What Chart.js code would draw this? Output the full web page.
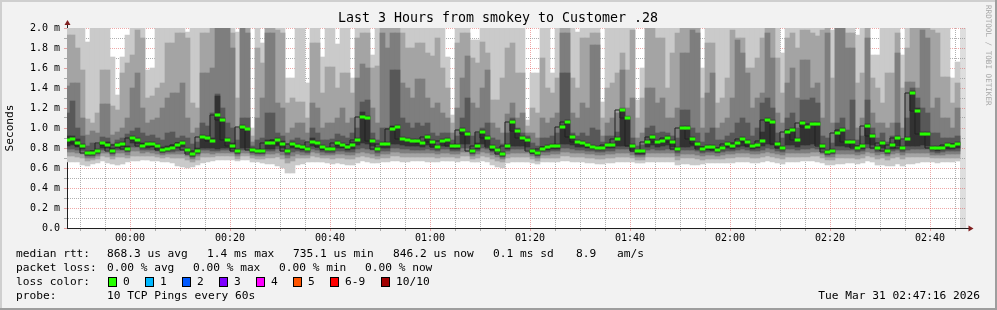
<!DOCTYPE html>
<html>
<head>
<meta charset="utf-8">
<script src="https://cdn.jsdelivr.net/npm/chart.js@4/dist/chart.umd.min.js"></script>
<style>
  html, body { margin: 0; padding: 0; background: #f2f2f2; }
  canvas { display: block; }
</style>
</head>
<body>
<canvas id="chart" width="997" height="310"></canvas>
<script>
// one sample per 60s step, first step starts 13 minutes before 00:00
const firstSample = -13;

// 10 sorted pings per step (ms), p1 = fastest ... p10 = slowest
const p10 = [2.1,2.1,2.1,2.1,1.86,2.1,2.1,2.1,2.1,1.71, 1.33,1.71,1.93,2.1,2.1,2.1,1.58,1.60,2.1,2.1,
  2.1,2.1,2.1,2.1,1.96,2.1,2.1,2.1,2.1,2.1, 2.1,2.1,2.1,2.1,1.96,2.1,2.1,1.00,2.1,1.85,
  2.1,2.1,2.1,2.1,1.50,1.50,2.1,2.1,1.45,2.1, 2.1,1.71,2.1,2.1,1.84,2.1,2.1,1.50,2.1,2.1,
  2.1,1.73,2.1,2.1,2.1,2.1,2.1,2.1,2.1,2.1, 2.1,2.1,2.1,2.1,2.1,2.1,1.71,1.13,2.1,2.1,
  2.1,1.88,1.88,2.1,2.1,2.1,2.1,2.1,2.1,2.1, 2.1,2.1,1.08,1.55,1.55,2.1,2.1,1.55,2.1,2.1,
  2.1,2.1,1.96,2.1,2.1,2.1,2.1,1.26,2.1,2.1, 2.1,2.1,2.1,2.1,1.28,1.60,2.1,2.1,2.1,2.1,
  2.1,2.1,2.1,2.1,2.1,2.1,2.1,1.60,2.1,2.1, 2.1,2.1,2.1,2.1,2.1,2.1,2.1,2.1,2.1,2.1,
  2.1,2.1,2.1,1.75,2.1,2.1,2.1,2.1,2.1,2.1, 2.1,2.1,2.1,1.98,2.1,2.1,2.1,2.1,1.93,2.1,
  2.1,1.73,1.73,2.1,2.1,2.1,2.1,1.73,2.1,2.1, 2.1,2.1,2.1,2.1,2.1,2.1,2.1,1.50,1.66];
const p9 = [1.93,1.93,1.80,1.58,1.09,1.05,1.15,1.58,1.58,1.22, 1.18,1.55,1.65,1.73,1.98,1.90,1.30,1.32,1.40,1.45,
  1.85,1.85,1.95,1.95,1.90,1.25,1.20,1.95,1.95,2.1, 2.1,2.1,2.1,1.95,1.30,2.1,2.1,0.92,1.80,1.65,
  2.1,2.1,1.98,1.95,1.25,1.30,1.26,1.26,1.10,1.85, 1.85,1.35,1.61,1.61,1.40,1.55,1.55,1.35,1.90,1.95,
  1.95,1.60,1.62,2.1,2.1,2.1,2.1,1.95,1.80,1.80, 1.85,1.85,1.75,1.72,1.90,1.60,1.40,1.05,1.85,1.95,
  1.95,1.70,1.65,1.86,1.75,1.28,1.28,1.50,1.80,1.85, 1.55,1.55,1.02,1.20,1.15,1.70,1.40,1.35,1.50,2.1,
  2.1,1.50,1.40,1.90,1.90,1.95,1.95,1.10,1.40,1.45, 1.55,1.75,1.58,1.98,1.10,1.30,2.0,2.0,1.90,1.90,
  1.40,1.75,1.95,2.1,2.1,2.1,2.1,1.30,1.85,1.85, 1.25,1.30,1.50,1.98,1.90,1.90,1.60,1.60,1.70,1.90,
  2.1,2.1,1.70,1.35,1.90,1.95,1.80,1.98,1.98,1.95, 1.92,1.98,2.1,1.50,2.1,2.1,1.95,1.95,1.45,1.55,
  2.0,1.50,1.40,1.25,1.55,1.55,1.95,1.40,1.80,2.1, 2.1,2.1,2.05,1.98,1.95,1.51,1.51,1.25,1.45];
const p8 = [1.42,1.45,1.45,1.10,0.93,0.97,0.95,1.24,1.24,0.93, 0.96,1.00,1.10,1.40,1.55,1.20,1.05,1.08,1.10,1.20,
  1.30,1.35,1.35,1.45,1.10,0.95,1.00,1.55,1.55,1.60, 2.1,2.1,2.1,1.80,1.00,2.1,1.95,0.86,1.10,1.30,
  1.95,1.95,1.25,1.20,0.95,1.00,1.05,1.05,0.95,1.25, 1.20,1.00,1.05,1.05,1.10,1.20,1.05,1.10,1.50,1.64,
  1.60,1.20,1.05,1.95,1.80,1.95,1.95,1.45,1.40,1.30, 1.49,1.49,1.30,1.20,1.25,1.15,1.10,0.95,1.20,1.50,
  1.72,1.25,1.20,1.40,1.58,1.05,1.00,0.95,1.14,1.25, 1.10,1.15,0.95,0.95,0.90,1.10,1.05,1.10,1.15,1.95,
  1.95,1.15,1.10,1.25,1.20,1.83,1.83,0.92,1.05,1.10, 1.15,1.58,1.20,1.30,0.90,0.95,1.40,1.40,1.25,1.30,
  1.10,1.10,1.20,1.75,1.75,1.98,1.95,1.00,1.35,1.55, 1.00,1.05,1.10,1.30,1.88,1.75,1.55,1.20,1.30,1.35,
  1.95,1.70,1.15,1.05,1.45,1.60,1.30,1.68,1.68,1.40, 1.45,1.10,1.95,1.05,2.0,2.0,1.80,1.80,1.00,1.10,
  1.90,1.15,1.05,1.05,1.00,1.05,1.75,1.00,1.46,1.46, 1.40,1.98,1.90,1.20,1.30,1.10,1.10,1.00,1.20];
const p7 = [1.15,1.27,1.00,0.92,0.82,0.85,0.84,0.91,0.90,0.84, 0.88,0.90,0.94,0.97,1.00,0.95,0.92,0.93,0.90,0.88,
  0.95,0.96,0.90,0.92,0.90,0.84,0.86,1.05,1.02,1.15, 1.34,1.20,1.05,1.00,0.88,1.10,1.10,0.82,0.88,0.90,
  1.15,1.15,0.95,0.92,0.84,0.88,0.90,0.88,0.85,1.00, 0.95,0.88,0.88,0.89,0.94,0.92,0.90,0.95,1.00,1.26,
  1.28,0.95,0.88,1.00,1.00,1.58,1.58,1.10,1.05,1.00, 1.05,1.02,1.05,0.95,0.92,0.95,0.95,0.88,0.92,1.10,
  1.30,0.92,0.95,1.00,1.05,0.90,0.88,0.84,0.95,1.10, 1.00,0.95,0.92,0.85,0.82,0.90,0.90,0.92,0.95,1.55,
  1.55,0.95,0.92,0.95,0.92,1.00,0.98,0.86,0.92,0.92, 0.96,1.20,1.12,0.90,0.82,0.83,1.00,1.02,0.95,0.96,
  0.95,0.92,0.90,1.18,1.18,1.00,0.95,0.86,0.95,1.00, 0.88,0.88,0.92,0.95,1.05,1.10,1.05,0.92,1.00,1.25,
  1.30,1.20,0.95,0.90,1.10,1.15,1.00,1.28,1.28,1.30, 1.25,0.92,0.90,0.85,1.05,1.10,0.98,1.28,0.88,0.92,
  1.28,1.00,0.90,0.95,0.86,0.92,1.05,0.88,1.10,1.40, 1.30,1.20,1.15,0.95,0.95,0.90,0.90,0.90,0.92];
const p6 = [0.92,0.92,0.89,0.84,0.77,0.77,0.79,0.86,0.86,0.80, 0.85,0.86,0.82,0.92,0.90,0.85,0.86,0.86,0.84,0.81,
  0.82,0.83,0.85,0.87,0.80,0.76,0.80,0.93,0.92,0.90, 1.32,1.10,0.90,0.85,0.79,1.03,1.00,0.80,0.79,0.79,
  0.88,0.88,0.90,0.87,0.79,0.86,0.84,0.83,0.81,0.90, 0.87,0.83,0.81,0.81,0.87,0.85,0.83,0.86,0.90,1.16,
  1.12,0.89,0.81,0.86,0.86,1.02,1.03,0.91,0.90,0.89, 0.89,0.87,0.93,0.88,0.83,0.89,0.90,0.84,0.84,1.00,
  0.96,0.79,0.85,0.98,0.92,0.83,0.80,0.76,0.84,1.08, 0.99,0.92,0.90,0.79,0.77,0.81,0.83,0.84,0.84,1.03,
  1.08,0.93,0.88,0.87,0.85,0.83,0.82,0.82,0.85,0.85, 0.91,1.19,1.11,0.84,0.78,0.78,0.88,0.93,0.88,0.89,
  0.92,0.88,0.81,1.02,1.02,0.91,0.86,0.81,0.83,0.83, 0.80,0.82,0.86,0.84,0.87,0.91,0.88,0.84,0.85,0.96,
  1.10,1.08,0.86,0.82,0.98,1.00,0.90,1.07,1.03,1.06, 1.06,0.84,0.78,0.79,0.97,1.00,0.88,0.88,0.82,0.84,
  1.04,0.94,0.82,0.87,0.79,0.85,0.92,0.82,0.91,1.37, 1.20,0.96,0.96,0.82,0.82,0.82,0.85,0.84,0.86];
const p5 = [0.82,0.83,0.81,0.79,0.73,0.73,0.75,0.80,0.80,0.75, 0.80,0.81,0.77,0.85,0.84,0.80,0.80,0.81,0.79,0.76,
  0.77,0.78,0.80,0.81,0.76,0.72,0.75,0.80,0.80,0.80, 0.79,0.80,0.80,0.79,0.75,0.80,0.80,0.76,0.75,0.75,
  0.79,0.79,0.82,0.80,0.75,0.80,0.79,0.78,0.77,0.82, 0.81,0.78,0.77,0.77,0.80,0.80,0.78,0.79,0.83,0.85,
  0.84,0.82,0.77,0.80,0.80,0.84,0.84,0.83,0.82,0.82, 0.82,0.81,0.83,0.81,0.79,0.82,0.82,0.79,0.79,0.84,
  0.84,0.75,0.79,0.84,0.82,0.78,0.76,0.72,0.79,0.82, 0.82,0.82,0.81,0.75,0.73,0.77,0.78,0.79,0.79,0.84,
  0.84,0.83,0.81,0.81,0.80,0.79,0.78,0.78,0.80,0.80, 0.82,0.82,0.82,0.78,0.74,0.74,0.81,0.83,0.81,0.82,
  0.83,0.81,0.77,0.81,0.81,0.82,0.80,0.77,0.78,0.78, 0.76,0.78,0.80,0.79,0.81,0.82,0.81,0.79,0.80,0.82,
  0.84,0.83,0.80,0.78,0.83,0.83,0.81,0.83,0.83,0.84, 0.83,0.79,0.74,0.75,0.82,0.82,0.81,0.81,0.78,0.79,
  0.84,0.83,0.78,0.80,0.75,0.79,0.82,0.78,0.82,0.82, 0.82,0.83,0.82,0.78,0.77,0.78,0.79,0.79,0.80];
const p4 = [0.79,0.79,0.78,0.77,0.72,0.72,0.74,0.78,0.78,0.74, 0.78,0.78,0.76,0.81,0.81,0.78,0.78,0.78,0.77,0.75,
  0.76,0.76,0.77,0.78,0.75,0.71,0.74,0.78,0.78,0.77, 0.77,0.78,0.78,0.77,0.74,0.78,0.78,0.75,0.74,0.74,
  0.77,0.77,0.79,0.77,0.73,0.76,0.77,0.76,0.75,0.79, 0.78,0.76,0.75,0.75,0.77,0.77,0.76,0.76,0.79,0.80,
  0.79,0.78,0.75,0.77,0.77,0.80,0.80,0.79,0.79,0.78, 0.78,0.78,0.79,0.78,0.77,0.79,0.79,0.77,0.77,0.80,
  0.80,0.74,0.77,0.80,0.79,0.76,0.74,0.71,0.77,0.79, 0.79,0.79,0.78,0.74,0.72,0.76,0.76,0.77,0.77,0.80,
  0.80,0.79,0.78,0.78,0.77,0.77,0.76,0.76,0.77,0.77, 0.79,0.79,0.79,0.76,0.73,0.73,0.78,0.79,0.78,0.78,
  0.79,0.78,0.75,0.78,0.78,0.78,0.77,0.75,0.76,0.76, 0.75,0.76,0.77,0.77,0.78,0.79,0.78,0.77,0.77,0.78,
  0.80,0.79,0.77,0.76,0.79,0.79,0.78,0.79,0.79,0.80, 0.79,0.77,0.73,0.74,0.78,0.78,0.78,0.78,0.76,0.77,
  0.80,0.79,0.76,0.77,0.74,0.77,0.78,0.76,0.78,0.79, 0.79,0.79,0.79,0.76,0.75,0.76,0.77,0.77,0.77];
const p3 = [0.76,0.76,0.75,0.74,0.70,0.70,0.72,0.75,0.75,0.72, 0.75,0.75,0.73,0.77,0.77,0.75,0.76,0.75,0.74,0.73,
  0.74,0.74,0.74,0.74,0.72,0.69,0.72,0.75,0.75,0.74, 0.75,0.75,0.75,0.75,0.72,0.75,0.75,0.73,0.72,0.72,
  0.74,0.74,0.75,0.73,0.70,0.72,0.74,0.73,0.73,0.76, 0.75,0.73,0.73,0.73,0.74,0.74,0.73,0.73,0.75,0.76,
  0.75,0.74,0.72,0.74,0.74,0.76,0.76,0.75,0.75,0.75, 0.75,0.75,0.75,0.75,0.74,0.75,0.75,0.74,0.74,0.76,
  0.76,0.72,0.74,0.76,0.75,0.73,0.71,0.69,0.74,0.75, 0.75,0.75,0.75,0.72,0.70,0.73,0.73,0.74,0.74,0.76,
  0.76,0.75,0.75,0.75,0.74,0.74,0.73,0.73,0.74,0.74, 0.75,0.75,0.75,0.73,0.71,0.71,0.75,0.75,0.75,0.75,
  0.75,0.75,0.72,0.74,0.74,0.74,0.73,0.72,0.73,0.73, 0.72,0.73,0.74,0.74,0.75,0.75,0.75,0.74,0.74,0.75,
  0.76,0.75,0.74,0.73,0.75,0.75,0.75,0.75,0.75,0.76, 0.76,0.74,0.71,0.71,0.74,0.74,0.74,0.74,0.73,0.74,
  0.76,0.75,0.73,0.74,0.72,0.74,0.75,0.73,0.75,0.75, 0.75,0.75,0.75,0.73,0.73,0.73,0.74,0.74,0.74];
const p2 = [0.72,0.72,0.71,0.70,0.67,0.68,0.69,0.72,0.71,0.69, 0.71,0.71,0.70,0.72,0.72,0.72,0.72,0.72,0.71,0.70,
  0.71,0.70,0.70,0.70,0.68,0.66,0.68,0.71,0.71,0.71, 0.72,0.72,0.72,0.72,0.69,0.72,0.72,0.70,0.69,0.69,
  0.70,0.70,0.71,0.69,0.65,0.67,0.70,0.70,0.70,0.72, 0.71,0.70,0.70,0.69,0.70,0.70,0.69,0.69,0.71,0.72,
  0.71,0.70,0.69,0.70,0.70,0.72,0.72,0.71,0.71,0.71, 0.71,0.71,0.71,0.71,0.70,0.71,0.71,0.71,0.70,0.72,
  0.72,0.69,0.70,0.72,0.71,0.69,0.67,0.66,0.70,0.71, 0.71,0.71,0.71,0.69,0.67,0.70,0.70,0.70,0.70,0.72,
  0.72,0.71,0.71,0.71,0.70,0.70,0.69,0.69,0.70,0.70, 0.71,0.71,0.71,0.70,0.68,0.68,0.71,0.71,0.71,0.71,
  0.71,0.71,0.68,0.70,0.70,0.70,0.69,0.68,0.69,0.69, 0.69,0.69,0.70,0.70,0.71,0.71,0.71,0.70,0.70,0.71,
  0.72,0.71,0.70,0.69,0.71,0.71,0.71,0.71,0.71,0.72, 0.72,0.70,0.68,0.68,0.70,0.70,0.70,0.70,0.69,0.70,
  0.72,0.71,0.69,0.70,0.68,0.70,0.71,0.69,0.71,0.71, 0.71,0.71,0.71,0.70,0.70,0.70,0.70,0.70,0.70];
const p1 = [0.66,0.66,0.66,0.63,0.62,0.64,0.65,0.67,0.65,0.64, 0.63,0.64,0.66,0.67,0.67,0.68,0.68,0.67,0.67,0.66,
  0.66,0.65,0.62,0.61,0.60,0.61,0.63,0.65,0.66,0.67, 0.68,0.68,0.68,0.68,0.67,0.68,0.68,0.66,0.66,0.65,
  0.64,0.64,0.62,0.60,0.55,0.55,0.63,0.64,0.66,0.66, 0.66,0.66,0.65,0.64,0.65,0.64,0.63,0.63,0.65,0.67,
  0.66,0.65,0.65,0.66,0.66,0.67,0.67,0.66,0.66,0.67, 0.67,0.67,0.66,0.66,0.66,0.67,0.67,0.67,0.66,0.67,
  0.67,0.66,0.66,0.67,0.66,0.63,0.61,0.60,0.65,0.66, 0.66,0.66,0.66,0.65,0.64,0.66,0.66,0.66,0.66,0.67,
  0.67,0.66,0.66,0.66,0.65,0.65,0.64,0.64,0.65,0.65, 0.66,0.66,0.66,0.66,0.65,0.65,0.66,0.66,0.66,0.66,
  0.66,0.66,0.63,0.64,0.64,0.63,0.63,0.64,0.65,0.65, 0.65,0.65,0.65,0.65,0.66,0.66,0.66,0.65,0.65,0.66,
  0.67,0.66,0.65,0.64,0.66,0.66,0.66,0.67,0.67,0.67, 0.66,0.65,0.63,0.63,0.64,0.64,0.65,0.65,0.64,0.65,
  0.67,0.66,0.63,0.63,0.62,0.62,0.64,0.62,0.64,0.64, 0.65,0.66,0.66,0.66,0.65,0.66,0.66,0.66,0.67];
const median = [0.88,0.89,0.85,0.82,0.75,0.75,0.77,0.85,0.83,0.77, 0.83,0.84,0.79,0.90,0.88,0.82,0.84,0.84,0.82,0.78,
  0.79,0.80,0.83,0.85,0.78,0.74,0.77,0.91,0.90,0.87, 1.13,1.08,0.88,0.82,0.77,1.01,0.99,0.78,0.77,0.77,
  0.85,0.85,0.88,0.84,0.77,0.84,0.82,0.81,0.79,0.86, 0.85,0.81,0.79,0.79,0.85,0.83,0.81,0.83,0.88,1.11,
  1.10,0.87,0.79,0.84,0.84,0.99,1.01,0.89,0.88,0.87, 0.87,0.85,0.91,0.86,0.81,0.87,0.88,0.82,0.82,0.98,
  0.94,0.77,0.82,0.96,0.90,0.81,0.78,0.74,0.82,1.06, 0.97,0.90,0.88,0.77,0.75,0.79,0.81,0.82,0.82,1.01,
  1.06,0.91,0.86,0.85,0.83,0.81,0.80,0.80,0.83,0.83, 0.89,1.18,1.10,0.82,0.77,0.77,0.86,0.91,0.86,0.87,
  0.90,0.86,0.79,1.00,1.00,0.89,0.84,0.79,0.81,0.81, 0.78,0.80,0.84,0.82,0.85,0.89,0.86,0.82,0.83,0.87,
  1.08,1.06,0.84,0.80,0.96,0.98,0.88,1.05,1.01,1.04, 1.04,0.82,0.76,0.77,0.95,0.98,0.86,0.86,0.80,0.82,
  1.02,0.92,0.80,0.85,0.77,0.83,0.90,0.80,0.89,1.35, 1.17,0.94,0.94,0.80,0.80,0.80,0.83,0.82,0.84];

const titleText = 'Last 3 Hours from smokey to Customer .28';
const rttStats = ['868.3 us avg', '1.4 ms max', '735.1 us min', '846.2 us now', '0.1 ms sd', '8.9', 'am/s'];
const lossStats = ['0.00 % avg', '0.00 % max', '0.00 % min', '0.00 % now'];
const lossLabels = ['0', '1', '2', '3', '4', '5', '6-9', '10/10'];
const lossColors = ['#26ff00', '#00b8ff', '#0059ff', '#7e00ff', '#ff00ff', '#ff5500', '#ff0000', '#a10000'];
const probeText = '10 TCP Pings every 60s';
const stampText = 'Tue Mar 31 02:47:16 2026';

const MONO = '"DejaVu Sans Mono", monospace';
const MINOR = 'rgba(143,143,143,0.7)';
const MAJOR = 'rgba(222,79,79,0.5)';

function hhmm(m) {
  const h = Math.floor(m / 60), mm = m % 60;
  return String(h).padStart(2, '0') + ':' + String(mm).padStart(2, '0');
}

// rrdtool style grid: every 5 min / 0.1 ms, labelled every 20 min / 0.2 ms
function gridTicks(lo, hi, step) {
  const out = [];
  for (let k = Math.ceil(lo / step - 1e-9); k * step <= hi + 1e-9; k++) out.push({ value: +(k * step).toFixed(3) });
  return out;
}

// smoke: pairs of pings from the outside in, lighter to darker
const smoke = [[p1, p10, '#cacaca'], [p2, p9, '#a4a4a4'], [p3, p8, '#7e7e7e'], [p4, p7, '#585858'], [p5, p6, '#323232']];

const datasets = smoke.map(([lo, hi, col], k) => ({
  type: 'bar',
  data: lo.map((v, i) => ({ x: firstSample + i + 0.5, y: [v, hi[i]] })),
  backgroundColor: col,
  borderWidth: 0,
  grouped: false,
  barPercentage: 1,
  categoryPercentage: 1,
  order: 10 - k
}));

const medLine = median.map((v, i) => ({ x: firstSample + i, y: v }));
medLine.push({ x: firstSample + median.length, y: median[median.length - 1] });
datasets.push({
  type: 'line',
  data: medLine,
  stepped: 'after',
  borderColor: '#202020',
  borderWidth: 1,
  pointRadius: 0,
  order: 2
});

// loss colour marker (no loss -> green) around the median
datasets.push({
  type: 'bar',
  data: median.map((v, i) => ({ x: firstSample + i + 0.5, y: [v - 0.012, v + 0.012] })),
  backgroundColor: lossColors[0],
  borderWidth: 0,
  grouped: false,
  barPercentage: 1,
  categoryPercentage: 1,
  order: 1
});

const deco = {
  id: 'deco',
  beforeDraw(chart) {
    const { ctx, chartArea: a } = chart;
    ctx.save();
    ctx.fillStyle = '#f2f2f2';
    ctx.fillRect(0, 0, chart.width, chart.height);
    ctx.fillStyle = '#ffffff';
    ctx.fillRect(a.left, a.top, a.right - a.left, a.bottom - a.top);
    // not yet measured part at the right end
    const endX = chart.scales.x.getPixelForValue(firstSample + median.length);
    ctx.fillStyle = '#dedede';
    ctx.fillRect(endX, a.top, a.right - endX, a.bottom - a.top);
    ctx.restore();
  },
  afterDraw(chart) {
    const { ctx, chartArea: a } = chart;
    ctx.save();

    // frame
    ctx.fillStyle = '#cfcfcf';
    ctx.fillRect(0, 0, chart.width, 2);
    ctx.fillRect(0, 0, 2, chart.height);
    ctx.fillStyle = '#9e9e9e';
    ctx.fillRect(0, chart.height - 2, chart.width, 2);
    ctx.fillRect(chart.width - 2, 0, 2, chart.height);

    // axis extensions + arrows
    ctx.strokeStyle = '#1f1f1f';
    ctx.lineWidth = 1;
    ctx.beginPath();
    ctx.moveTo(a.left + 0.5, a.top);
    ctx.lineTo(a.left + 0.5, a.top - 5);
    ctx.moveTo(a.right, a.bottom + 0.5);
    ctx.lineTo(a.right + 4, a.bottom + 0.5);
    ctx.stroke();
    ctx.fillStyle = '#801f1f';
    ctx.beginPath();
    ctx.moveTo(a.left - 2.5, a.top - 3);
    ctx.lineTo(a.left + 3.5, a.top - 3);
    ctx.lineTo(a.left + 0.5, a.top - 8);
    ctx.closePath();
    ctx.fill();
    ctx.beginPath();
    ctx.moveTo(a.right + 2.5, a.bottom - 2.5);
    ctx.lineTo(a.right + 2.5, a.bottom + 3.5);
    ctx.lineTo(a.right + 7.5, a.bottom + 0.5);
    ctx.closePath();
    ctx.fill();

    // title
    ctx.fillStyle = '#000';
    ctx.textBaseline = 'middle';
    ctx.textAlign = 'center';
    ctx.font = '13.3px ' + MONO;
    ctx.fillText(titleText, 498, 19);

    // watermark
    ctx.save();
    ctx.translate(988, 5);
    ctx.rotate(Math.PI / 2);
    ctx.textAlign = 'left';
    ctx.fillStyle = '#a8a8a8';
    ctx.font = '7.6px ' + MONO;
    ctx.fillText('RRDTOOL / TOBI OETIKER', 0, 0);
    ctx.restore();

    // legend
    ctx.textAlign = 'left';
    ctx.font = '11.2px ' + MONO;
    ctx.fillStyle = '#000';
    const rttX = [107, 207, 293, 393, 493, 576, 617];
    ctx.fillText('median rtt:', 16, 254);
    rttStats.forEach((t, i) => ctx.fillText(t, rttX[i], 254));
    ctx.fillText('packet loss:', 16, 268);
    lossStats.forEach((t, i) => ctx.fillText(t, 107 + i * 86, 268));
    ctx.fillText('loss color:', 16, 282);
    lossLabels.forEach((t, i) => {
      const bx = i < 7 ? 108 + i * 37 : 381;
      ctx.fillStyle = lossColors[i];
      ctx.fillRect(bx, 277, 8, 9);
      ctx.strokeStyle = '#000';
      ctx.strokeRect(bx + 0.5, 277.5, 8, 9);
      ctx.fillStyle = '#000';
      ctx.fillText(t, bx + 15, 282);
    });
    ctx.fillText('probe:', 16, 296);
    ctx.fillText(probeText, 107, 296);
    ctx.textAlign = 'right';
    ctx.fillText(stampText, 980, 296);

    ctx.restore();
  }
};

new Chart(document.getElementById('chart'), {
  type: 'bar',
  data: { datasets },
  plugins: [deco],
  options: {
    responsive: false,
    devicePixelRatio: 1,
    animation: false,
    events: [],
    layout: { padding: { left: 0, top: 28, right: 31, bottom: 0 } },
    plugins: { legend: { display: false }, tooltip: { enabled: false } },
    scales: {
      x: {
        type: 'linear',
        min: -12.6,
        max: 167.2,
        offset: false,
        z: 1,
        afterFit: s => { s.height = 82; },
        afterBuildTicks: s => { s.ticks = gridTicks(s.min, s.max, 5); },
        ticks: {
          autoSkip: false,
          maxRotation: 0,
          padding: 1,
          color: '#000',
          font: { family: MONO, size: 10 },
          callback: v => (Math.round(v) % 20 === 0 ? hhmm(Math.round(v)) : '')
        },
        grid: {
          offset: false,
          lineWidth: 1,
          tickLength: 3,
          color: c => (c.tick && Math.round(c.tick.value) % 20 === 0 ? MAJOR : MINOR),
          tickColor: c => (c.tick && Math.round(c.tick.value) % 20 === 0 ? MAJOR : MINOR)
        },
        border: { display: true, color: '#1f1f1f', width: 1, dash: [1, 1] }
      },
      y: {
        min: 0,
        max: 2.0,
        z: 1,
        afterFit: s => { s.width = 67; },
        afterBuildTicks: s => { s.ticks = gridTicks(s.min, s.max, 0.1); },
        ticks: {
          autoSkip: false,
          padding: 4,
          color: '#000',
          font: { family: MONO, size: 10 },
          callback: v => {
            const t = Math.round(v * 10);
            if (t % 2 !== 0) return '';
            return t === 0 ? '0.0' : (t / 10).toFixed(1) + ' m';
          }
        },
        grid: {
          lineWidth: 1,
          tickLength: 3,
          color: c => (c.tick && Math.round(c.tick.value * 10) % 2 === 0 ? MAJOR : MINOR),
          tickColor: c => (c.tick && Math.round(c.tick.value * 10) % 2 === 0 ? MAJOR : MINOR)
        },
        border: { display: true, color: '#1f1f1f', width: 1, dash: [1, 1] },
        title: {
          display: true,
          text: 'Seconds',
          color: '#000',
          font: { family: MONO, size: 11.2 },
          padding: { top: 3, bottom: 0 }
        }
      }
    }
  }
});
</script>
</body>
</html>
